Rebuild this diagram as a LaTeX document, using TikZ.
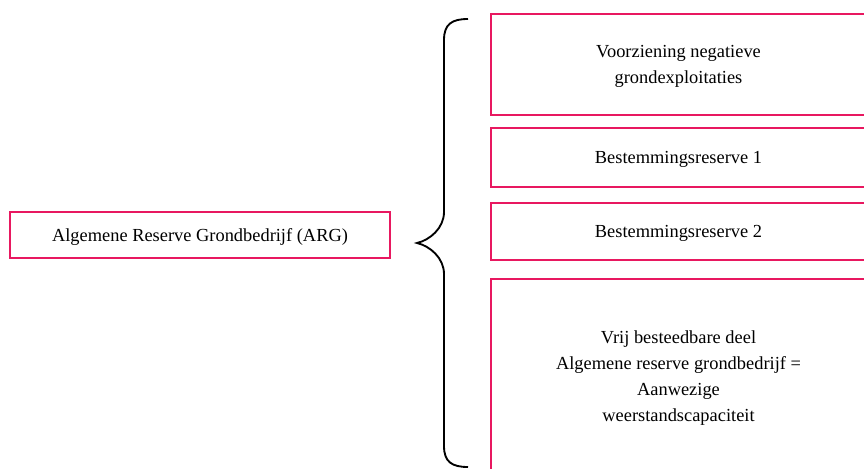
\documentclass[tikz,border=0pt]{standalone}
\usepackage{tikz}
\usepackage{fontspec}
\setmainfont{Liberation Serif}
\usetikzlibrary{positioning}
\definecolor{roze}{RGB}{232,24,96}
\tikzset{
	every node/.style={align=center},
	reservebox/.style={draw=roze, line width=1.6pt, inner sep=0pt, text depth=0pt, font=\fontsize{13.8}{19.5}\selectfont},
	accolade/.style={line width=1.4pt, black},
}

\begin{document}
\begin{tikzpicture}[x=0.75pt,y=-0.75pt]
	\useasboundingbox (0,0) rectangle (864,468);
	\clip (0,0) rectangle (864,468);
	
	% left box......................
	\node [reservebox, minimum width=285pt, minimum height=34.5pt] (arg) at (200,235) {Algemene Reserve Grondbedrijf (ARG)};
	
	% right boxes...................
	\node [reservebox, minimum width=281.25pt, minimum height=75.75pt] (vng) at (678.5,64.5) {Voorziening negatieve\\grondexploitaties};
	\node [reservebox, minimum width=281.25pt, minimum height=44.25pt] (br1) at (678.5,157.5) {Bestemmingsreserve 1};
	\node [reservebox, minimum width=281.25pt, minimum height=42.75pt] (br2) at (678.5,231.5) {Bestemmingsreserve 2};
	\node [reservebox, minimum width=281.25pt, minimum height=145.5pt] (vrij) at (678.5,376) {Vrij besteedbare deel\\Algemene reserve grondbedrijf =\\Aanwezige\\weerstandscapaciteit};
	
	% brace.........................
	\draw [accolade] (468,19) .. controls (452,19) and (444,24) .. (444,40)
		-- (444,212) .. controls (444,228) and (430,240) .. (417,243)
		.. controls (430,246) and (444,258) .. (444,274)
		-- (444,446) .. controls (444,462) and (452,467) .. (468,467);
\end{tikzpicture}
\end{document}
